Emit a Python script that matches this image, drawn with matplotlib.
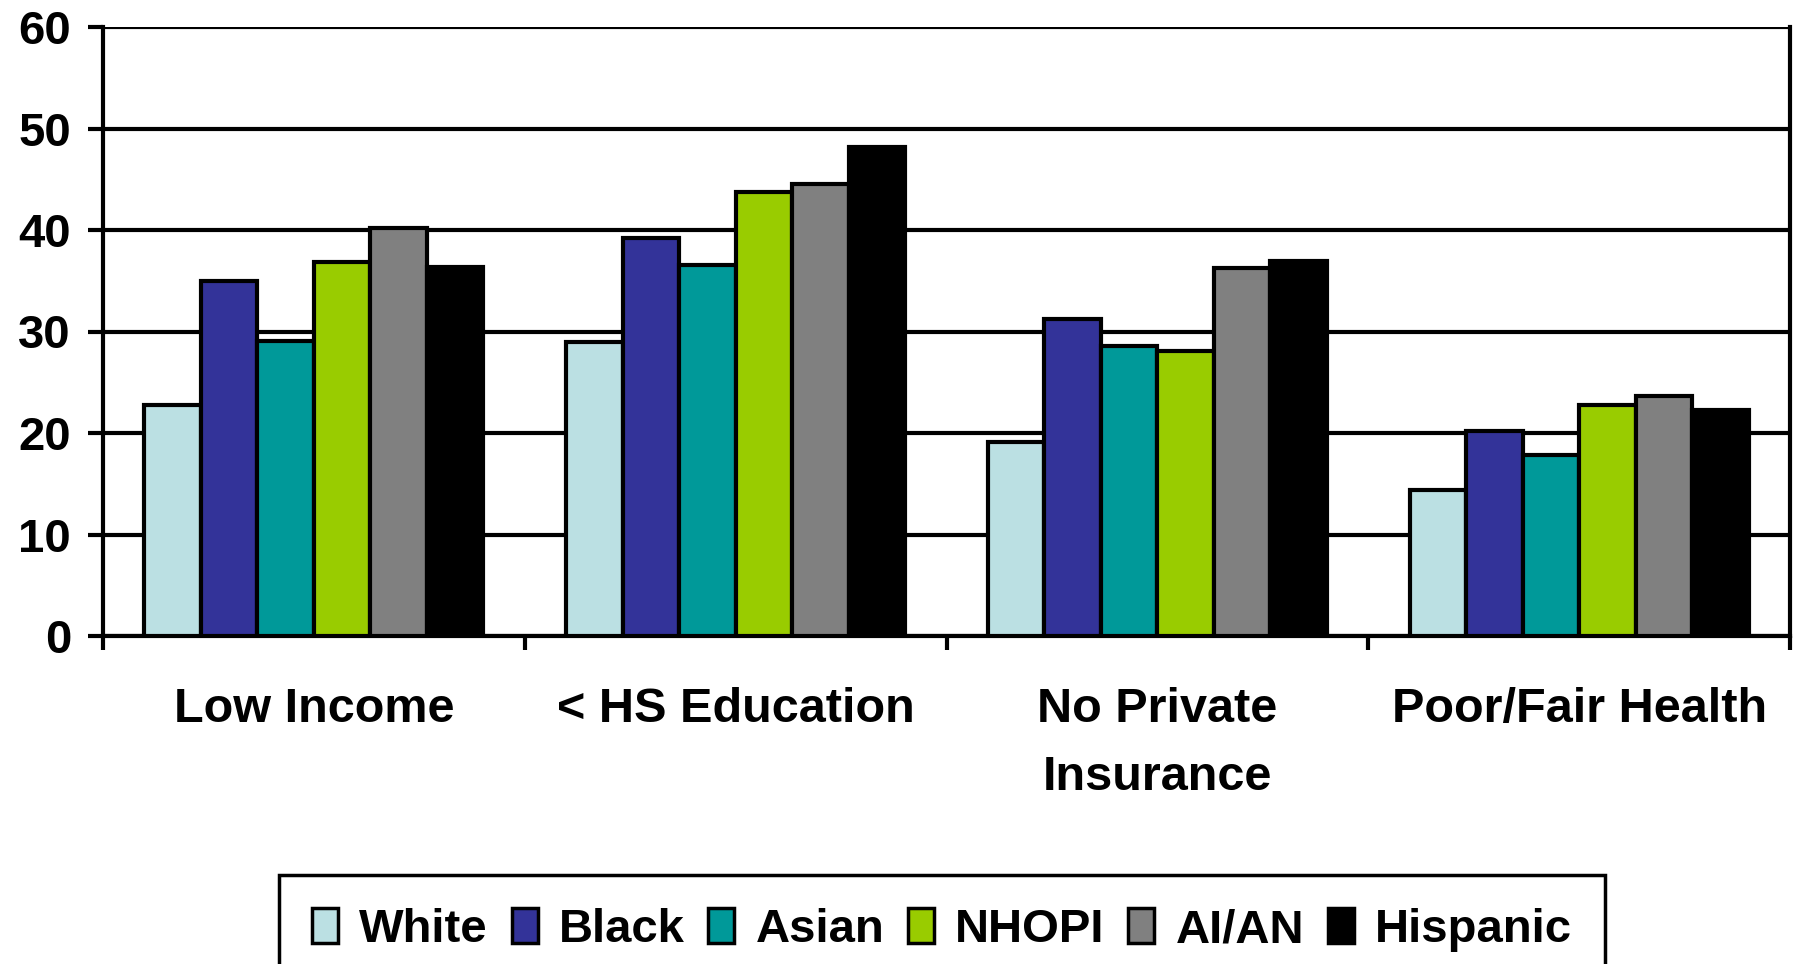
import numpy as np
import matplotlib
matplotlib.use("Agg")
import matplotlib.pyplot as plt

categories = ["Low Income", "< HS Education", "No Private\nInsurance", "Poor/Fair Health"]
groups = ["White", "Black", "Asian", "NHOPI", "AI/AN", "Hispanic"]
colors = ["#BBE0E3", "#333399", "#009999", "#99CC00", "#808080", "#000000"]

white = [22.8, 29.0, 19.1, 14.4]
black = [35.0, 39.2, 31.2, 20.2]
asian = [29.1, 36.6, 28.6, 17.8]
nhopi = [36.8, 43.7, 28.1, 22.8]
aian = [40.2, 44.5, 36.3, 23.6]
hispanic = [36.4, 48.2, 36.9, 22.3]
series = [white, black, asian, nhopi, aian, hispanic]

plt.rcParams['font.family'] = ['Liberation Sans', 'DejaVu Sans']
plt.rcParams['font.weight'] = 'bold'

fig = plt.figure(figsize=(17.93, 9.64), dpi=100)
ax = fig.add_axes([103 / 1793, 1 - 636 / 964, (1790 - 103) / 1793, (636 - 27) / 964])

x = np.arange(len(categories))
w = 0.134
for i, (vals, c, name) in enumerate(zip(series, colors, groups)):
    ax.bar(x + (i - 2.5) * w, vals, w, color=c, edgecolor='black',
           linewidth=3, label=name, zorder=3)

ax.set_xlim(-0.5, 3.5)
ax.set_ylim(0, 60)
ax.set_yticks(range(0, 61, 10))
ax.yaxis.grid(True, color='black', linewidth=3, zorder=0)
ax.set_axisbelow(True)

# category labels on major ticks, separator marks on minor ticks
ax.set_xticks(x)
ax.set_xticklabels(categories, fontsize=35, fontweight='bold', linespacing=1.65)
ax.set_xticks(np.arange(-0.5, 3.6, 1.0), minor=True)
ax.tick_params(axis='x', which='major', length=0, pad=37)
ax.tick_params(axis='x', which='minor', length=10, width=3, direction='out')
ax.tick_params(axis='y', length=11, width=3, labelsize=34, pad=12)
for lbl in ax.get_yticklabels():
    lbl.set_fontweight('bold')

for side in ['left', 'right', 'bottom']:
    ax.spines[side].set_linewidth(3)
    ax.spines[side].set_color('black')
ax.spines['top'].set_visible(False)

leg = fig.legend(loc='upper center', bbox_to_anchor=(942 / 1793, 1 - 875 / 964),
                 ncol=6, frameon=True, fancybox=False, borderaxespad=0,
                 edgecolor='black', framealpha=1, handlelength=0.55,
                 handleheight=0.75, handletextpad=0.45, columnspacing=0.5,
                 borderpad=0.7, prop={'weight': 'bold', 'size': 34})
leg.get_frame().set_linewidth(2.5)
for h in leg.legend_handles:
    h.set_linewidth(2.5)

fig.savefig("out.png", dpi=100)
